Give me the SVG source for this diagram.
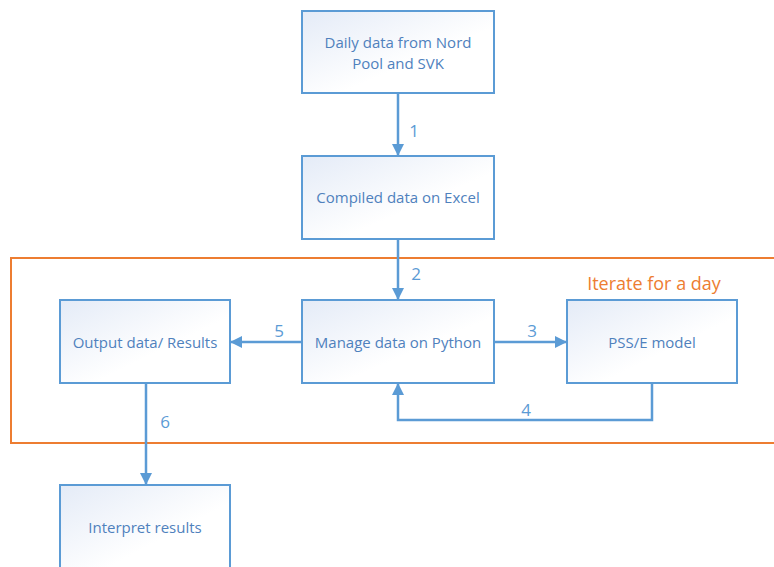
<svg xmlns="http://www.w3.org/2000/svg" width="774" height="567" viewBox="0 0 774 567">
<defs>
<linearGradient id="g" x1="0" y1="0" x2="1" y2="1">
<stop offset="0" stop-color="#e4ebf7"/>
<stop offset="0.6" stop-color="#ffffff"/>
<stop offset="1" stop-color="#ffffff"/>
</linearGradient>
<marker id="ah" markerWidth="12" markerHeight="12" refX="11" refY="6" orient="auto" markerUnits="userSpaceOnUse" viewBox="0 0 12 12">
<path d="M0,0 L12,6 L0,12 z" fill="#5b9bd5"/>
</marker>
<style>
.box{fill:url(#g);stroke:#5b9bd5;stroke-width:2}
.t{font-family:"Open Sans","Liberation Sans",sans-serif;font-size:15px;fill:#4f81bd;text-anchor:middle}
.n{font-family:"Open Sans","Liberation Sans",sans-serif;font-size:17px;fill:#5b9bd5;text-anchor:middle}
.c{fill:none;stroke:#5b9bd5;stroke-width:2.5}
</style>
</defs>
<rect x="11" y="258" width="770" height="185" fill="none" stroke="#ed7d31" stroke-width="2"/>
<text x="654" y="290" font-family="'Open Sans','Liberation Sans',sans-serif" font-size="18" fill="#ed7d31" text-anchor="middle">Iterate for a day</text>
<g id="n1"><rect class="box" x="302" y="11" width="192" height="82"/><text class="t" x="398" y="48">Daily data from Nord</text><text class="t" x="398" y="69">Pool and SVK</text></g>
<g id="n2"><rect class="box" x="302" y="156" width="192" height="83"/><text class="t" x="398" y="203">Compiled data on Excel</text></g>
<g id="n3"><rect class="box" x="302" y="300" width="192" height="83"/><text class="t" x="398" y="348">Manage data on Python</text></g>
<g id="n4"><rect class="box" x="567" y="300" width="170" height="83"/><text class="t" x="652" y="348">PSS/E model</text></g>
<g id="n5"><rect class="box" x="60" y="300" width="170" height="83"/><text class="t" x="145" y="348">Output data/ Results</text></g>
<g id="n6"><rect class="box" x="60" y="485" width="170" height="90"/><text class="t" x="145" y="533">Interpret results</text></g>
<g id="connectors">
<path class="c" d="M398,93 V155" marker-end="url(#ah)"/>
<path class="c" d="M398,239 V299" marker-end="url(#ah)"/>
<path class="c" d="M494,342 H566" marker-end="url(#ah)"/>
<path class="c" d="M652,383 V420 H398 V384" marker-end="url(#ah)"/>
<path class="c" d="M302,342 H231" marker-end="url(#ah)"/>
<path class="c" d="M146,383 V484" marker-end="url(#ah)"/>
<text class="n" x="414" y="137">1</text>
<text class="n" x="416" y="280">2</text>
<text class="n" x="532" y="337">3</text>
<text class="n" x="526" y="416">4</text>
<text class="n" x="279" y="337">5</text>
<text class="n" x="165" y="428">6</text>
</g>
</svg>
